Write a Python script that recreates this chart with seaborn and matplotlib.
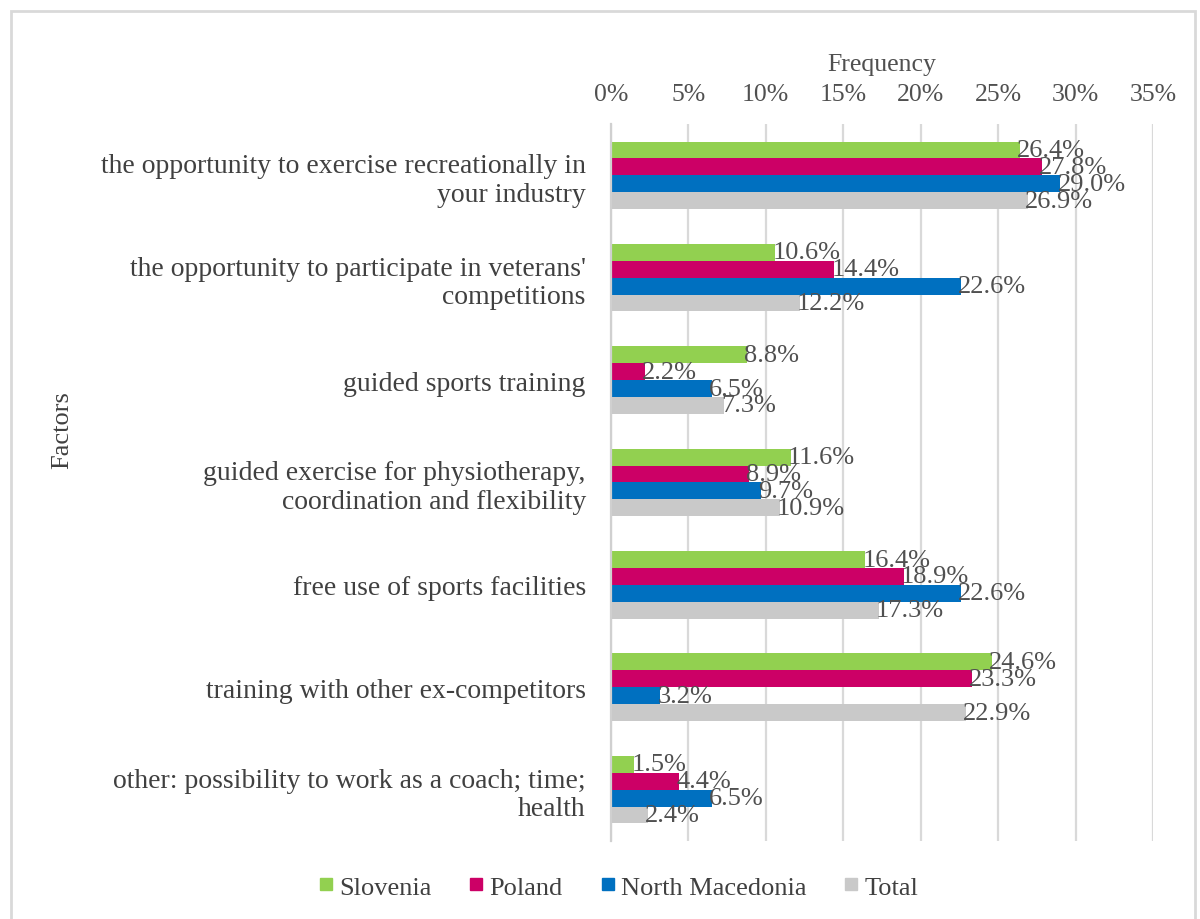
import matplotlib
matplotlib.use("Agg")
import matplotlib.pyplot as plt
from matplotlib.patches import Rectangle
from matplotlib.lines import Line2D
from matplotlib.ticker import PercentFormatter, MultipleLocator
import pandas as pd
import seaborn as sns

factors = [
    "the opportunity to exercise recreationally in\nyour industry",
    "the opportunity to participate in veterans'\ncompetitions",
    "guided sports training",
    "guided exercise for physiotherapy,\ncoordination and flexibility",
    "free use of sports facilities",
    "training with other ex-competitors",
    "other: possibility to work as a coach; time;\nhealth",
]
countries = ["Slovenia", "Poland", "North Macedonia", "Total"]
slovenia = [26.4, 10.6, 8.8, 11.6, 16.4, 24.6, 1.5]
poland = [27.8, 14.4, 2.2, 8.9, 18.9, 23.3, 4.4]
north_macedonia = [29.0, 22.6, 6.5, 9.7, 22.6, 3.2, 6.5]
total = [26.9, 12.2, 7.3, 10.9, 17.3, 22.9, 2.4]
colors = ["#92D050", "#CC0066", "#0070C0", "#C9C9C9"]

series = {"Slovenia": slovenia, "Poland": poland,
          "North Macedonia": north_macedonia, "Total": total}
rows = []
for country in countries:
    for f, v in zip(factors, series[country]):
        rows.append({"Factor": f, "Country": country, "Value": v})
df = pd.DataFrame(rows)

sns.set_theme(style="white")
plt.rcParams["font.family"] = ["Liberation Serif", "DejaVu Serif"]
text_col = "#404040"
label_col = "#505050"

fig = plt.figure(figsize=(12, 9.2), dpi=100)
ax = fig.add_axes([0.509, 0.085, 0.452, 0.779])

sns.barplot(data=df, x="Value", y="Factor", hue="Country", order=factors,
            hue_order=countries, palette=colors, orient="h", width=0.66,
            saturation=1, edgecolor="none", linewidth=0, legend=False, ax=ax)

for cont, country in zip(ax.containers, countries):
    ax.bar_label(cont, labels=[f"{v:.1f}%" for v in series[country]],
                 padding=-2, fontsize=19, color=label_col)

ax.set_xlim(0, 35)
ax.xaxis.set_major_locator(MultipleLocator(5))
ax.xaxis.set_major_formatter(PercentFormatter(100, decimals=0))
ax.xaxis.tick_top()
ax.xaxis.set_label_position("top")
ax.tick_params(axis="x", length=0, pad=14, labelsize=18.5, labelcolor=label_col)
ax.tick_params(axis="y", length=0, pad=18, labelsize=20, labelcolor=text_col)
ax.set_xlabel("Frequency", fontsize=18.5, color=label_col, labelpad=9)
ax.set_ylabel("")
ax.grid(axis="x", color="#D9D9D9", linewidth=1.6)
ax.set_axisbelow(True)
for side in ["top", "right", "bottom"]:
    ax.spines[side].set_visible(False)
ax.spines["left"].set_color("#D0D0D0")
ax.spines["left"].set_linewidth(1.6)

fig.text(0.052, 0.532, "Factors", rotation=90, ha="center", va="center",
         fontsize=19, color=text_col)

handles = [Line2D([0], [0], marker="s", linestyle="none", markersize=8,
                  markerfacecolor=c, markeredgecolor=c) for c in colors]
fig.legend(handles, countries, loc="center", bbox_to_anchor=(0.513, 0.035),
           ncol=4, frameon=False, fontsize=19, handletextpad=0.0,
           handlelength=1.0, columnspacing=1.2, labelcolor=text_col)

fig.patches.append(Rectangle((0.009, -0.01), 0.987, 0.997, transform=fig.transFigure,
                             fill=False, edgecolor="#D9D9D9", linewidth=2))

fig.savefig("out.png", dpi=100, facecolor="white")
